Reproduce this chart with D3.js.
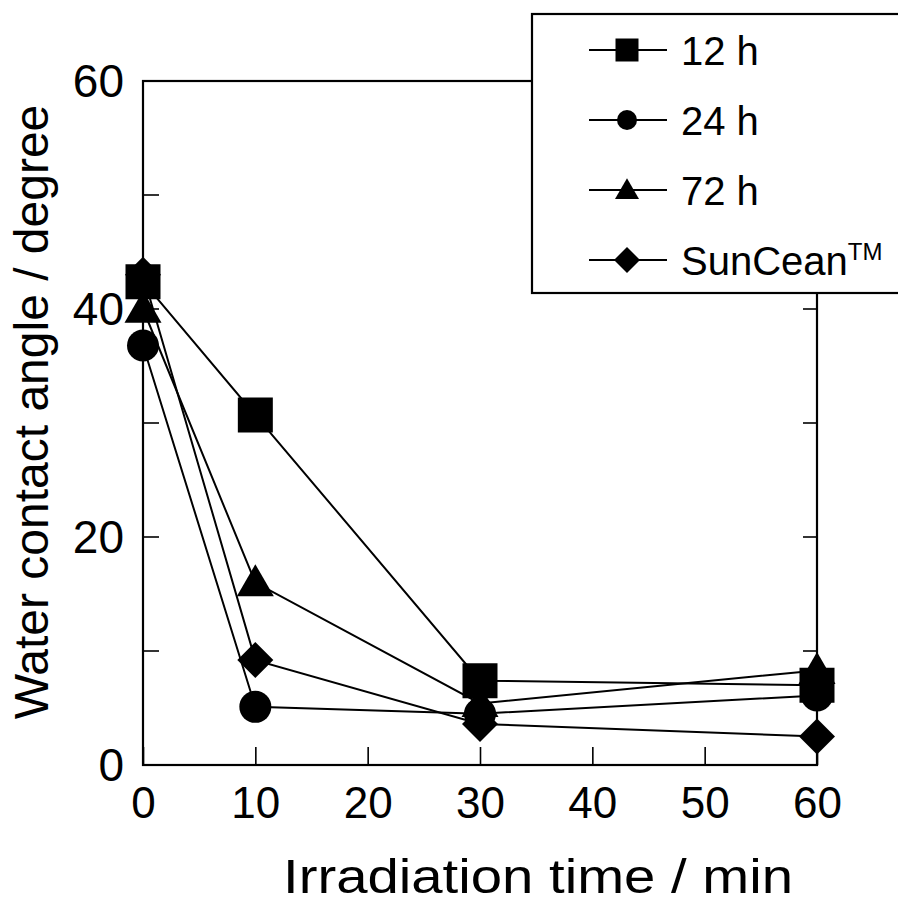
<!DOCTYPE html>
<html>
<head>
<meta charset="utf-8">
<script src="https://cdn.jsdelivr.net/npm/d3@7"></script>
<style>
  html, body { margin: 0; padding: 0; background: #fff; }
  svg text { font-family: "Liberation Sans", Arial, sans-serif; fill: #000; }
</style>
</head>
<body>
<svg id="chart" width="898" height="906"></svg>
<script>
// Irradiation times (min) and contact angles (degree) per sample
const times = [0, 10, 30, 60];
const angle12h = [42.4, 30.7, 7.4, 7.0];
const angle24h = [36.8, 5.1, 4.5, 6.1];
const angle72h = [40.0, 16.0, 5.4, 8.3];
const angleSunCean = [43.0, 9.2, 3.6, 2.5];
const seriesNames = ["12 h", "24 h", "72 h", "SunCean"];
const xTicks = [0, 10, 20, 30, 40, 50, 60];
const yTicks = [0, 20, 40, 60];
const yMinorTicks = [10, 20, 30, 40, 50];

const series = [
  { name: seriesNames[0], values: angle12h, symbol: d3.symbolSquare },
  { name: seriesNames[1], values: angle24h, symbol: d3.symbolCircle },
  { name: seriesNames[2], values: angle72h, symbol: d3.symbolTriangle },
  { name: seriesNames[3], values: angleSunCean, symbol: "diamond" }
];

const svg = d3.select("#chart");
const x = d3.scaleLinear().domain([0, 60]).range([143, 817]);
const y = d3.scaleLinear().domain([0, 60]).range([765, 81]);

// marker path generator; w is the nominal width in px
function markerPath(sym, w) {
  if (sym === "diamond") {
    const h = w / 2;
    return `M0,${-h}L${h},0L0,${h}L${-h},0Z`;
  }
  if (sym === d3.symbolSquare) return d3.symbol(sym, w * w)();
  if (sym === d3.symbolCircle) return d3.symbol(sym, Math.PI * (w / 2) * (w / 2))();
  // triangle with side w
  return d3.symbol(sym, Math.sqrt(3) / 4 * w * w)();
}

const plot = svg.append("g");

// frame
plot.append("rect")
  .attr("x", x(0)).attr("y", y(60))
  .attr("width", x(60) - x(0)).attr("height", y(0) - y(60))
  .attr("fill", "none").attr("stroke", "#000").attr("stroke-width", 2.2);

// bottom axis, ticks pointing inward
const xAxis = d3.axisBottom(x).tickValues(xTicks).tickSize(-18).tickPadding(26).tickFormat(d3.format("d"));
const gx = plot.append("g").attr("transform", `translate(0,${y(0)})`).call(xAxis);
gx.select(".domain").remove();
gx.selectAll(".tick line").attr("stroke-width", 1.6);
gx.selectAll(".tick text").attr("font-size", 44).attr("dy", "0.71em").attr("y", 22);

// left axis
const yAxis = d3.axisLeft(y).tickValues(yTicks).tickSize(0).tickPadding(19).tickFormat(d3.format("d"));
const gy = plot.append("g").attr("transform", `translate(${x(0)},0)`).call(yAxis);
gy.select(".domain").remove();
gy.selectAll(".tick text").attr("font-size", 46).attr("dy", "0.34em");
// inward minor ticks on both sides
plot.append("g").selectAll("line").data(yMinorTicks).join("line")
  .attr("x1", x(0)).attr("x2", x(0) + 16)
  .attr("y1", d => y(d)).attr("y2", d => y(d))
  .attr("stroke", "#000").attr("stroke-width", 1.6);
plot.append("g").selectAll("line").data(yMinorTicks).join("line")
  .attr("x1", x(60)).attr("x2", x(60) - 14)
  .attr("y1", d => y(d)).attr("y2", d => y(d))
  .attr("stroke", "#000").attr("stroke-width", 1.6);

// axis titles
svg.append("text")
  .attr("x", 283).attr("y", 893)
  .attr("font-size", 48)
  .attr("textLength", 510).attr("lengthAdjust", "spacingAndGlyphs")
  .text("Irradiation time / min");
svg.append("text")
  .attr("transform", "translate(48,412) rotate(-90)")
  .attr("text-anchor", "middle").attr("font-size", 48)
  .text("Water contact angle / degree");

// series lines and markers
const line = d3.line().x((d, i) => x(times[i])).y(d => y(d));
const sizes = [35, 32, 37, 36];
series.forEach((s) => {
  plot.append("path").datum(s.values).attr("d", line)
    .attr("fill", "none").attr("stroke", "#000").attr("stroke-width", 2);
});
series.slice().reverse().forEach((s) => {
  const k = series.indexOf(s);
  plot.append("g").selectAll("path").data(s.values).join("path")
    .attr("transform", (d, i) => `translate(${x(times[i])},${y(d) + (s.symbol === d3.symbolTriangle ? 3 : 0)})`)
    .attr("d", markerPath(s.symbol, sizes[k]))
    .attr("fill", "#000");
});

// legend
const lg = svg.append("g");
lg.append("rect")
  .attr("x", 532).attr("y", 14).attr("width", 380).attr("height", 279)
  .attr("fill", "#fff").attr("stroke", "#000").attr("stroke-width", 2.2);
const legendRows = [50, 120, 190, 260];
const legendSizes = [23, 20, 24, 26];
series.forEach((s, k) => {
  const cy = legendRows[k];
  lg.append("line").attr("x1", 589).attr("x2", 667).attr("y1", cy).attr("y2", cy)
    .attr("stroke", "#000").attr("stroke-width", 2);
  lg.append("path")
    .attr("transform", `translate(627,${cy + (s.symbol === d3.symbolTriangle ? 2 : 0)})`)
    .attr("d", markerPath(s.symbol, legendSizes[k]))
    .attr("fill", "#000");
  const t = lg.append("text").attr("x", 681).attr("y", cy + 15).attr("font-size", 40).text(s.name);
  if (k === 3) {
    t.append("tspan").attr("font-size", 24).attr("dy", -15).text("TM");
  }
});
</script>
</body>
</html>
